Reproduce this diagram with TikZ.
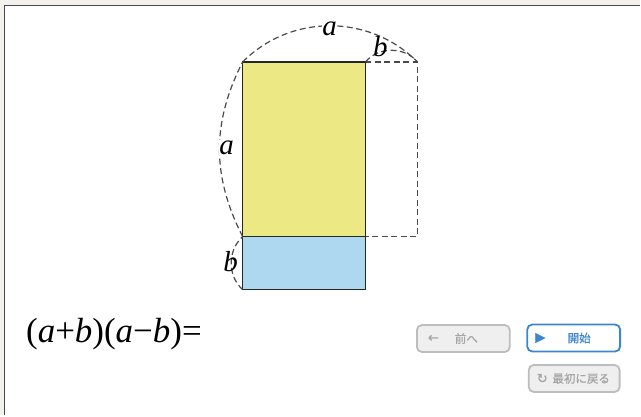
\documentclass[tikz,border=0pt]{standalone}
\usepackage{fontspec}
\setmainfont{Liberation Serif}
\newfontfamily\jpfont{Noto Sans CJK JP}[FakeBold=0.9]
\newfontfamily\symfont{DejaVu Sans}[FakeBold=1.2]
\definecolor{bgout}{HTML}{F3F1EC}
\definecolor{frameline}{HTML}{4A4A4A}
\definecolor{yellowfill}{HTML}{ECE984}
\definecolor{bluefill}{HTML}{AED8F0}
\definecolor{dashgray}{HTML}{4A4A4A}
\definecolor{btngray}{HTML}{BDBDBD}
\definecolor{btnfill}{HTML}{EFEFEF}
\definecolor{btntext}{HTML}{A6A6A6}
\definecolor{btnblue}{HTML}{3D86CC}
\tikzset{
  guide/.style={draw=dashgray, line width=1.2pt, dash pattern=on 6pt off 3.5pt},
  piece/.style={draw=black!85, line width=1.3pt},
  letter/.style={font=\fontsize{29}{30}\selectfont\itshape, inner sep=0.5pt},
  btnoff/.style={draw=btngray, line width=1.8pt, fill=btnfill, rounded corners=5pt, inner sep=0pt},
  btnon/.style={draw=btnblue, line width=1.8pt, fill=white, rounded corners=5pt, inner sep=0pt},
  btnlbl/.style={inner sep=0pt, font=\jpfont\fontsize{11.5}{12}\selectfont},
  btnsym/.style={inner sep=0pt, font=\symfont\fontsize{13}{14}\selectfont},
}
\begin{document}
\begin{tikzpicture}[x=1pt,y=-1pt]
% page and frame
\fill[bgout] (0,0) rectangle (641,416);
\fill[white] (4,5) rectangle (641,416);
\draw[frameline, line width=1.8pt] (4.5,416) -- (4.5,5.5) -- (641,5.5);
\useasboundingbox (0,0) rectangle (641,416);

% corner points
\coordinate (TL) at (243,62);
\coordinate (TR) at (366,62);
\coordinate (TX) at (418,62);
\coordinate (ML) at (243,237);
\coordinate (MR) at (366,237);
\coordinate (MX) at (418,237);
\coordinate (BL) at (243,290);
\coordinate (BR) at (366,290);

% dashed missing part
\draw[guide] (TR) -- (TX) -- (MX) -- (MR);

% pieces
\filldraw[piece, fill=yellowfill] (TL) rectangle (MR);
\filldraw[piece, fill=bluefill] (ML) rectangle (BR);

% dashed arcs
\draw[guide] (TL) to[bend left=45] (TX);
\draw[guide] (TR) to[bend left=50] (TX);
\draw[guide] (ML) to[bend left=27] (TL);
\draw[guide] (BL) to[bend left=48] (ML);

% labels
\node[letter, fill=white] (la1) at (330,29) {a};
\node[letter] (lb1) at (381,47) {b};
\node[letter, fill=white] (la2) at (227,148) {a};
\node[letter] (lb2) at (231,262) {b};

% equation
\node[anchor=base west, inner sep=0pt, font=\fontsize{35}{36}\selectfont] (eq) at (26,343)
  {(\textit{a}+\textit{b})(\textit{a}−\textit{b})=};

% buttons
\node[btnoff, minimum width=93pt, minimum height=27pt] (prev) at (464,339) {};
\node[btnsym, text=btntext] (prevsym) at (434,339) {←};
\node[btnlbl, text=btntext] (prevtxt) at (467,339) {前へ};

\node[btnon, minimum width=93pt, minimum height=27pt] (start) at (574.5,338.5) {};
\node[btnsym, text=btnblue] (startsym) at (541,338.5) {▶};
\node[btnlbl, text=btnblue] (starttxt) at (580,338.5) {開始};

\node[btnoff, minimum width=91pt, minimum height=27pt] (reset) at (575,379) {};
\node[btnsym, text=btntext] (resetsym) at (543,379) {↻};
\node[btnlbl, text=btntext] (resettxt) at (582,379) {最初に戻る};
\end{tikzpicture}
\end{document}
